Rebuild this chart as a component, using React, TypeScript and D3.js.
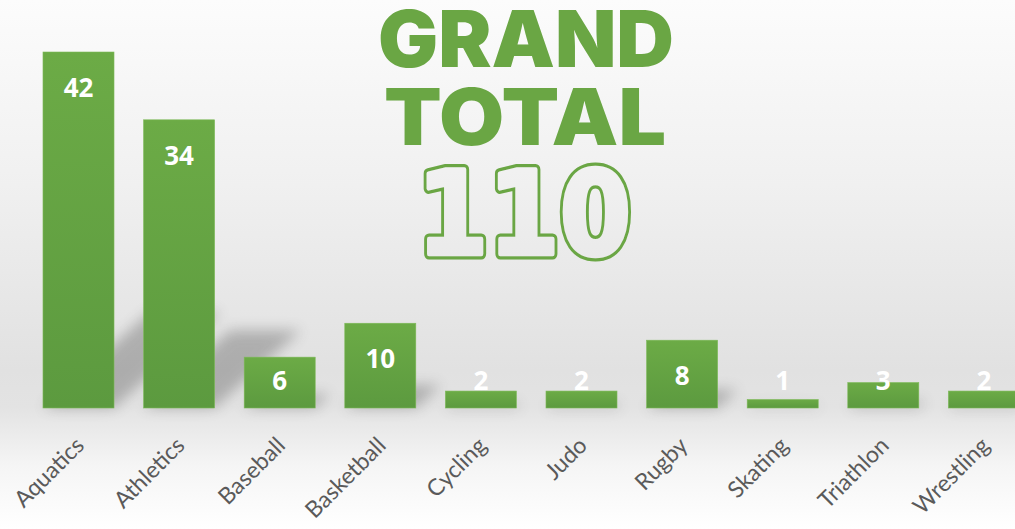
import React from "react";
import * as d3 from "d3";

const categories = ["Aquatics", "Athletics", "Baseball", "Basketball", "Cycling", "Judo", "Rugby", "Skating", "Triathlon", "Wrestling"];
const values = [42, 34, 6, 10, 2, 2, 8, 1, 3, 2];
const titleLines = ["GRAND", "TOTAL"];
const totalLabel = "110";

const W = 1015;
const H = 529;
const GREEN = "#6aa644";

const bgStops: [number, string][] = [
  [0, "#fcfcfc"],
  [0.35, "#f0f0f0"],
  [0.7, "#e1e1e1"],
  [0.77, "#e3e3e3"],
  [0.88, "#f5f5f5"],
  [1, "#ffffff"],
];

export default function App() {
  const x = d3.scaleBand<string>().domain(categories).range([28.2, 1034.2]).paddingInner(0.294).paddingOuter(0.147);
  const y = d3.scaleLinear().domain([0, 42]).range([408, 52]);
  const base = y(0);
  const bw = x.bandwidth();
  const titleWidths = [296, 282];
  const titleCenters = [526, 525];

  const totalProps = {
    x: 524,
    y: 254,
    textAnchor: "middle" as const,
    fontFamily: "'DejaVu Sans', sans-serif",
    fontWeight: 700,
    fontSize: 116,
    textLength: 214,
    lengthAdjust: "spacingAndGlyphs" as const,
    strokeLinejoin: "round" as const,
  };

  return (
    <div style={{ position: "absolute", left: 0, top: 0, width: W, height: H, overflow: "hidden" }}>
      <svg width={W} height={H} style={{ display: "block" }}>
        <defs>
          <linearGradient id="bg" gradientUnits="userSpaceOnUse" x1="0" y1="0" x2="0" y2={H}>
            {bgStops.map(([o, c]) => (
              <stop key={o} offset={o} stopColor={c} />
            ))}
          </linearGradient>
          <linearGradient id="bar" x1="0" y1="0" x2="0" y2="1">
            <stop offset="0" stopColor="#6cab46" />
            <stop offset="1" stopColor="#5c9a3f" />
          </linearGradient>
          <filter id="blur" x="-50%" y="-50%" width="200%" height="200%">
            <feGaussianBlur stdDeviation="7" />
          </filter>
        </defs>
        <rect x={0} y={0} width={W} height={H} fill="url(#bg)" />

        {/* perspective shadows */}
        <g filter="url(#blur)" opacity={0.32}>
          {categories.map((c, i) => {
            const x0 = x(c)!;
            const h = base - y(values[i]);
            const sh = h * 0.27;
            const dx = h * 0.3;
            const pts = [
              [x0, base],
              [x0 + bw, base],
              [x0 + bw + dx, base - sh],
              [x0 + dx, base - sh],
            ];
            return <polygon key={c} points={pts.map((p) => p.join(",")).join(" ")} fill="#404040" />;
          })}
        </g>

        {/* bars */}
        {categories.map((c, i) => (
          <rect key={c} x={x(c)} y={y(values[i])} width={bw} height={base - y(values[i])} fill="url(#bar)" stroke="#7dba58" strokeWidth={0.6} />
        ))}

        {/* value labels */}
        {categories.map((c, i) => (
          <text
            key={c}
            x={x(c)! + bw / 2}
            y={Math.min(y(values[i]) + 35, base - 28)}
            textAnchor="middle"
            dominantBaseline="central"
            fontFamily="'Open Sans', 'DejaVu Sans', sans-serif"
            fontWeight={700}
            fontSize={26}
            fill="#ffffff"
          >
            {values[i]}
          </text>
        ))}

        {/* category labels */}
        {categories.map((c) => {
          const ax = x(c)! + bw / 2 + 7;
          const ay = 447;
          return (
            <text
              key={c}
              transform={`translate(${ax},${ay}) rotate(-45)`}
              textAnchor="end"
              fontFamily="Lato, 'Open Sans', sans-serif"
              fontSize={23}
              fill="#5a5a5a"
            >
              {c}
            </text>
          );
        })}

        {/* title */}
        {titleLines.map((t, i) => (
          <text
            key={t}
            x={titleCenters[i]}
            y={67 + i * 78}
            textAnchor="middle"
            fontFamily="Inter, Lato, Roboto, sans-serif"
            fontWeight={900}
            fontSize={78}
            textLength={titleWidths[i]}
            lengthAdjust="spacingAndGlyphs"
            fill={GREEN}
          >
            {t}
          </text>
        ))}
        <text {...totalProps} fill={GREEN} stroke={GREEN} strokeWidth={11}>
          {totalLabel}
        </text>
        <text {...totalProps} fill="url(#bg)" stroke="url(#bg)" strokeWidth={4.5}>
          {totalLabel}
        </text>
      </svg>
    </div>
  );
}
